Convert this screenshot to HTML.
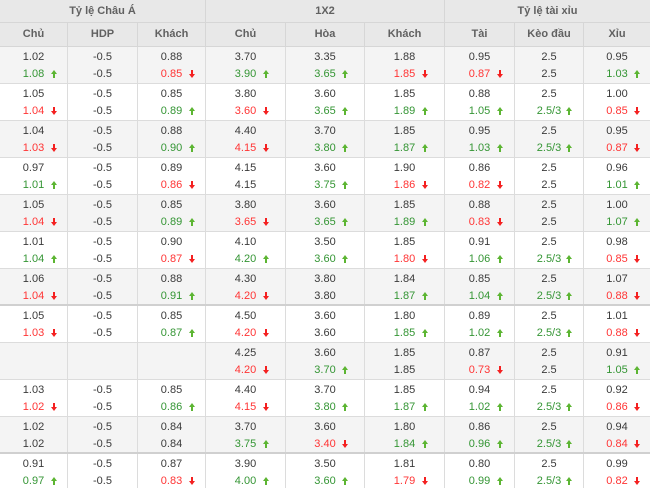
<!DOCTYPE html>
<html><head><meta charset="utf-8">
<style>
*{margin:0;padding:0}
html,body{width:650px;height:488px;overflow:hidden;background:#fff}
body{font-family:"Liberation Sans","DejaVu Sans",sans-serif;font-size:11px;color:#3a3a3a}
.h1,.h2{display:flex;background:#e8e8e8;color:#616161;font-weight:bold;font-size:11px;box-sizing:border-box;border-bottom:1px solid #d6d6d6}
.h1{height:23px;line-height:22px}
.h2{height:24px;line-height:23px}
.h1>div,.h2>div{box-sizing:border-box;border-right:1px solid #d6d6d6;text-align:center}
.h1>div:nth-child(1){width:206px}
.h1>div:nth-child(2){width:239px}
.h1>div:nth-child(3){width:205px;border-right:none}
.r{display:flex;height:37px;box-sizing:border-box;border-bottom:1px solid #dcdcdc}
.r.o{background:#f4f4f4}
.r.t{border-bottom:2px solid #d0d0d0}
.r>div{box-sizing:border-box;border-right:1px solid #dcdcdc;text-align:center;padding-top:2px}
.r>div>div{height:17px;line-height:17px;position:relative}
.r>div:nth-child(1),.h2>div:nth-child(1){width:68px}
.r>div:nth-child(2),.h2>div:nth-child(2){width:70px}
.r>div:nth-child(3),.h2>div:nth-child(3){width:68px}
.r>div:nth-child(4),.h2>div:nth-child(4){width:80px}
.r>div:nth-child(5),.h2>div:nth-child(5){width:79px}
.r>div:nth-child(6),.h2>div:nth-child(6){width:80px}
.r>div:nth-child(7),.h2>div:nth-child(7){width:70px}
.r>div:nth-child(8),.h2>div:nth-child(8){width:69px}
.r>div:nth-child(9),.h2>div:nth-child(9){width:66px;border-right:none}
.g{color:#349534}
.d{color:#ff3434}
i{position:absolute;left:calc(50% + 17px);top:4px;width:6px;height:8px}
i.u::before{content:"";position:absolute;left:0;top:0;border-left:3px solid transparent;border-right:3px solid transparent;border-bottom:4px solid #5cb532}
i.u::after{content:"";position:absolute;left:2px;top:4px;width:2px;height:4px;background:#5cb532}
i.n::before{content:"";position:absolute;left:0;top:4px;border-left:3px solid transparent;border-right:3px solid transparent;border-top:4px solid #f42020}
i.n::after{content:"";position:absolute;left:2px;top:0;width:2px;height:4px;background:#f42020}
</style></head><body>
<div class="h1"><div>Tỷ lệ Châu Á</div><div>1X2</div><div>Tỷ lệ tài xỉu</div></div>
<div class="h2"><div>Chủ</div><div>HDP</div><div>Khách</div><div>Chủ</div><div>Hòa</div><div>Khách</div><div>Tài</div><div>Kèo đầu</div><div>Xỉu</div></div>

<div class="r o">
<div><div>1.02</div><div class="g">1.08<i class="u"></i></div></div>
<div><div>-0.5</div><div>-0.5</div></div>
<div><div>0.88</div><div class="d">0.85<i class="n"></i></div></div>
<div><div>3.70</div><div class="g">3.90<i class="u"></i></div></div>
<div><div>3.35</div><div class="g">3.65<i class="u"></i></div></div>
<div><div>1.88</div><div class="d">1.85<i class="n"></i></div></div>
<div><div>0.95</div><div class="d">0.87<i class="n"></i></div></div>
<div><div>2.5</div><div>2.5</div></div>
<div><div>0.95</div><div class="g">1.03<i class="u"></i></div></div>
</div>

<div class="r">
<div><div>1.05</div><div class="d">1.04<i class="n"></i></div></div>
<div><div>-0.5</div><div>-0.5</div></div>
<div><div>0.85</div><div class="g">0.89<i class="u"></i></div></div>
<div><div>3.80</div><div class="d">3.60<i class="n"></i></div></div>
<div><div>3.60</div><div class="g">3.65<i class="u"></i></div></div>
<div><div>1.85</div><div class="g">1.89<i class="u"></i></div></div>
<div><div>0.88</div><div class="g">1.05<i class="u"></i></div></div>
<div><div>2.5</div><div class="g">2.5/3<i class="u"></i></div></div>
<div><div>1.00</div><div class="d">0.85<i class="n"></i></div></div>
</div>

<div class="r o">
<div><div>1.04</div><div class="d">1.03<i class="n"></i></div></div>
<div><div>-0.5</div><div>-0.5</div></div>
<div><div>0.88</div><div class="g">0.90<i class="u"></i></div></div>
<div><div>4.40</div><div class="d">4.15<i class="n"></i></div></div>
<div><div>3.70</div><div class="g">3.80<i class="u"></i></div></div>
<div><div>1.85</div><div class="g">1.87<i class="u"></i></div></div>
<div><div>0.95</div><div class="g">1.03<i class="u"></i></div></div>
<div><div>2.5</div><div class="g">2.5/3<i class="u"></i></div></div>
<div><div>0.95</div><div class="d">0.87<i class="n"></i></div></div>
</div>

<div class="r">
<div><div>0.97</div><div class="g">1.01<i class="u"></i></div></div>
<div><div>-0.5</div><div>-0.5</div></div>
<div><div>0.89</div><div class="d">0.86<i class="n"></i></div></div>
<div><div>4.15</div><div>4.15</div></div>
<div><div>3.60</div><div class="g">3.75<i class="u"></i></div></div>
<div><div>1.90</div><div class="d">1.86<i class="n"></i></div></div>
<div><div>0.86</div><div class="d">0.82<i class="n"></i></div></div>
<div><div>2.5</div><div>2.5</div></div>
<div><div>0.96</div><div class="g">1.01<i class="u"></i></div></div>
</div>

<div class="r o">
<div><div>1.05</div><div class="d">1.04<i class="n"></i></div></div>
<div><div>-0.5</div><div>-0.5</div></div>
<div><div>0.85</div><div class="g">0.89<i class="u"></i></div></div>
<div><div>3.80</div><div class="d">3.65<i class="n"></i></div></div>
<div><div>3.60</div><div class="g">3.65<i class="u"></i></div></div>
<div><div>1.85</div><div class="g">1.89<i class="u"></i></div></div>
<div><div>0.88</div><div class="d">0.83<i class="n"></i></div></div>
<div><div>2.5</div><div>2.5</div></div>
<div><div>1.00</div><div class="g">1.07<i class="u"></i></div></div>
</div>

<div class="r">
<div><div>1.01</div><div class="g">1.04<i class="u"></i></div></div>
<div><div>-0.5</div><div>-0.5</div></div>
<div><div>0.90</div><div class="d">0.87<i class="n"></i></div></div>
<div><div>4.10</div><div class="g">4.20<i class="u"></i></div></div>
<div><div>3.50</div><div class="g">3.60<i class="u"></i></div></div>
<div><div>1.85</div><div class="d">1.80<i class="n"></i></div></div>
<div><div>0.91</div><div class="g">1.06<i class="u"></i></div></div>
<div><div>2.5</div><div class="g">2.5/3<i class="u"></i></div></div>
<div><div>0.98</div><div class="d">0.85<i class="n"></i></div></div>
</div>

<div class="r o t">
<div><div>1.06</div><div class="d">1.04<i class="n"></i></div></div>
<div><div>-0.5</div><div>-0.5</div></div>
<div><div>0.88</div><div class="g">0.91<i class="u"></i></div></div>
<div><div>4.30</div><div class="d">4.20<i class="n"></i></div></div>
<div><div>3.80</div><div>3.80</div></div>
<div><div>1.84</div><div class="g">1.87<i class="u"></i></div></div>
<div><div>0.85</div><div class="g">1.04<i class="u"></i></div></div>
<div><div>2.5</div><div class="g">2.5/3<i class="u"></i></div></div>
<div><div>1.07</div><div class="d">0.88<i class="n"></i></div></div>
</div>

<div class="r">
<div><div>1.05</div><div class="d">1.03<i class="n"></i></div></div>
<div><div>-0.5</div><div>-0.5</div></div>
<div><div>0.85</div><div class="g">0.87<i class="u"></i></div></div>
<div><div>4.50</div><div class="d">4.20<i class="n"></i></div></div>
<div><div>3.60</div><div>3.60</div></div>
<div><div>1.80</div><div class="g">1.85<i class="u"></i></div></div>
<div><div>0.89</div><div class="g">1.02<i class="u"></i></div></div>
<div><div>2.5</div><div class="g">2.5/3<i class="u"></i></div></div>
<div><div>1.01</div><div class="d">0.88<i class="n"></i></div></div>
</div>

<div class="r o">
<div><div></div><div></div></div>
<div><div></div><div></div></div>
<div><div></div><div></div></div>
<div><div>4.25</div><div class="d">4.20<i class="n"></i></div></div>
<div><div>3.60</div><div class="g">3.70<i class="u"></i></div></div>
<div><div>1.85</div><div>1.85</div></div>
<div><div>0.87</div><div class="d">0.73<i class="n"></i></div></div>
<div><div>2.5</div><div>2.5</div></div>
<div><div>0.91</div><div class="g">1.05<i class="u"></i></div></div>
</div>

<div class="r">
<div><div>1.03</div><div class="d">1.02<i class="n"></i></div></div>
<div><div>-0.5</div><div>-0.5</div></div>
<div><div>0.85</div><div class="g">0.86<i class="u"></i></div></div>
<div><div>4.40</div><div class="d">4.15<i class="n"></i></div></div>
<div><div>3.70</div><div class="g">3.80<i class="u"></i></div></div>
<div><div>1.85</div><div class="g">1.87<i class="u"></i></div></div>
<div><div>0.94</div><div class="g">1.02<i class="u"></i></div></div>
<div><div>2.5</div><div class="g">2.5/3<i class="u"></i></div></div>
<div><div>0.92</div><div class="d">0.86<i class="n"></i></div></div>
</div>

<div class="r o t">
<div><div>1.02</div><div>1.02</div></div>
<div><div>-0.5</div><div>-0.5</div></div>
<div><div>0.84</div><div>0.84</div></div>
<div><div>3.70</div><div class="g">3.75<i class="u"></i></div></div>
<div><div>3.60</div><div class="d">3.40<i class="n"></i></div></div>
<div><div>1.80</div><div class="g">1.84<i class="u"></i></div></div>
<div><div>0.86</div><div class="g">0.96<i class="u"></i></div></div>
<div><div>2.5</div><div class="g">2.5/3<i class="u"></i></div></div>
<div><div>0.94</div><div class="d">0.84<i class="n"></i></div></div>
</div>

<div class="r">
<div><div>0.91</div><div class="g">0.97<i class="u"></i></div></div>
<div><div>-0.5</div><div>-0.5</div></div>
<div><div>0.87</div><div class="d">0.83<i class="n"></i></div></div>
<div><div>3.90</div><div class="g">4.00<i class="u"></i></div></div>
<div><div>3.50</div><div class="g">3.60<i class="u"></i></div></div>
<div><div>1.81</div><div class="d">1.79<i class="n"></i></div></div>
<div><div>0.80</div><div class="g">0.99<i class="u"></i></div></div>
<div><div>2.5</div><div class="g">2.5/3<i class="u"></i></div></div>
<div><div>0.99</div><div class="d">0.82<i class="n"></i></div></div>
</div>
</body></html>
